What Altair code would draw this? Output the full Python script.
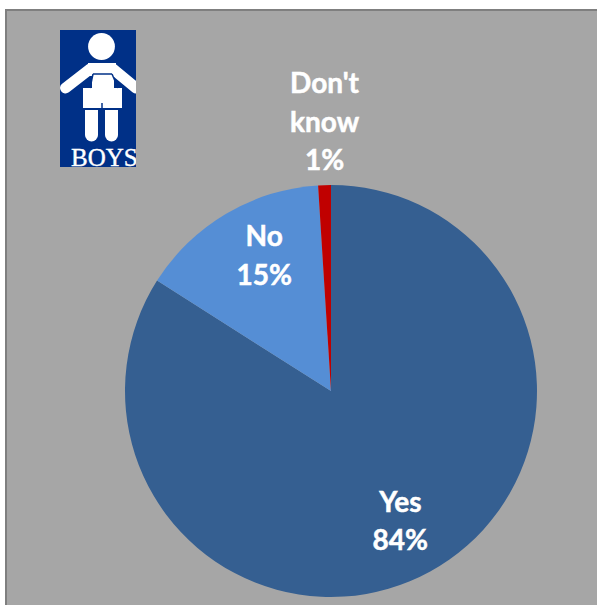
import altair as alt
import pandas as pd

# Survey shares, clockwise from twelve o'clock
categories = ["Yes", "No", "Don't know"]
shares = [84, 15, 1]
colors = ["#355F91", "#558ED5", "#C00000"]
label_lines = ["Yes\n84%", "No\n15%", "Don't\nknow\n1%"]

CX, CY, R = 331, 391, 206
W, H = 597, 605
FONT = "Lato"

pie_data = pd.DataFrame({
    "category": categories,
    "share": shares,
    "label": label_lines,
    "order": list(range(len(categories))),
})

theta_scale = alt.Scale(domain=[0, 100], range=[0, 6.283185307])
blank = pd.DataFrame({"k": [0]})

# Grey panel behind everything, with a darker edge on the top and left
panel = alt.Chart(blank).mark_rect(color="#A6A6A6", stroke="#7F7F7F", strokeWidth=2).encode(
    x=alt.value(6), x2=alt.value(W + 10), y=alt.value(10), y2=alt.value(H + 10)
)

pie = alt.Chart(pie_data).mark_arc(radius=R).encode(
    theta=alt.Theta("share:Q", stack=True, scale=theta_scale),
    order=alt.Order("order:Q"),
    color=alt.Color("category:N", scale=alt.Scale(domain=categories, range=colors), legend=None),
    x=alt.value(CX),
    y=alt.value(CY),
)


def slice_label(name, radius, dx=0, dy=0):
    # Places one label on the bisector of its slice
    return (
        alt.Chart(pie_data)
        .transform_stack(stack="share", sort=[alt.SortField("order")], as_=["s0", "s1"], groupby=[])
        .transform_filter(alt.datum.category == name)
        .transform_calculate(mid="(datum.s0 + datum.s1) / 2", lines="split(datum.label, '\\n')")
        .mark_text(
            radius=radius, dx=dx, dy=dy, font=FONT, fontWeight="bold", fontSize=28,
            color="white", stroke="white", strokeWidth=0.5, lineHeight=38.5,
            align="center", baseline="middle",
        )
        .encode(
            theta=alt.Theta("mid:Q", scale=theta_scale, stack=None),
            x=alt.value(CX),
            y=alt.value(CY),
            text="lines:N",
        )
    )


labels = [
    slice_label("Yes", 146, -1, -15),
    slice_label("No", 151, 10, -23),
    slice_label("Don't know", 269, 2, -37),
]

# Boys pictogram built from plain marks
NAVY = "#003087"


def seg(x, y, x2, y2, w, color="white", cap="round"):
    return alt.Chart(blank).mark_rule(color=color, strokeWidth=w, strokeCap=cap).encode(
        x=alt.value(x), y=alt.value(y), x2=alt.value(x2), y2=alt.value(y2))


def box(x, y, x2, y2, fill="white", cr=0):
    return alt.Chart(blank).mark_rect(color=fill, cornerRadius=cr).encode(
        x=alt.value(x), y=alt.value(y), x2=alt.value(x2), y2=alt.value(y2))


logo = [
    box(60, 30, 136, 167, NAVY),
    alt.Chart(blank).mark_point(filled=True, color="white", opacity=1, size=720, shape="circle").encode(
        x=alt.value(101.5), y=alt.value(46.5)),
    # arms and shoulders
    seg(65.5, 88, 90, 69, 11),
    seg(136, 88, 113, 69, 11),
    box(88, 63, 116, 76),
    # overalls: bib and shorts
    box(92, 74, 114, 90),
    box(83, 88, 122, 108),
    # strap outline
    seg(93, 74, 90, 88, 1.5, NAVY, "butt"),
    seg(112, 74, 118, 88, 1.5, NAVY, "butt"),
    seg(93, 74, 112, 74, 1.5, NAVY, "butt"),
    # gap between the shorts' legs
    seg(102, 103, 102, 108, 1.5, NAVY, "butt"),
    # legs
    box(85, 110, 98, 135),
    box(105, 110, 118, 135),
    seg(91.5, 132, 91.5, 135, 13),
    seg(111.5, 132, 111.5, 135, 13),
    alt.Chart(blank).mark_text(
        text="BOYS", font="Liberation Serif", fontSize=25, color="white", stroke="white", strokeWidth=0.4,
        align="left", baseline="alphabetic",
    ).encode(x=alt.value(71), y=alt.value(165.5)),
    # right edge of the badge trims anything that overflows it
    box(136, 30, 146, 167, "#A6A6A6"),
]

chart = alt.layer(panel, pie, *labels, *logo).properties(
    width=W, height=H, padding=0, background="white",
    autosize=alt.AutoSizeParams(type="none"),
).configure_view(strokeWidth=0)

chart.save("out.html", embed_options={"renderer": "svg", "actions": False})
